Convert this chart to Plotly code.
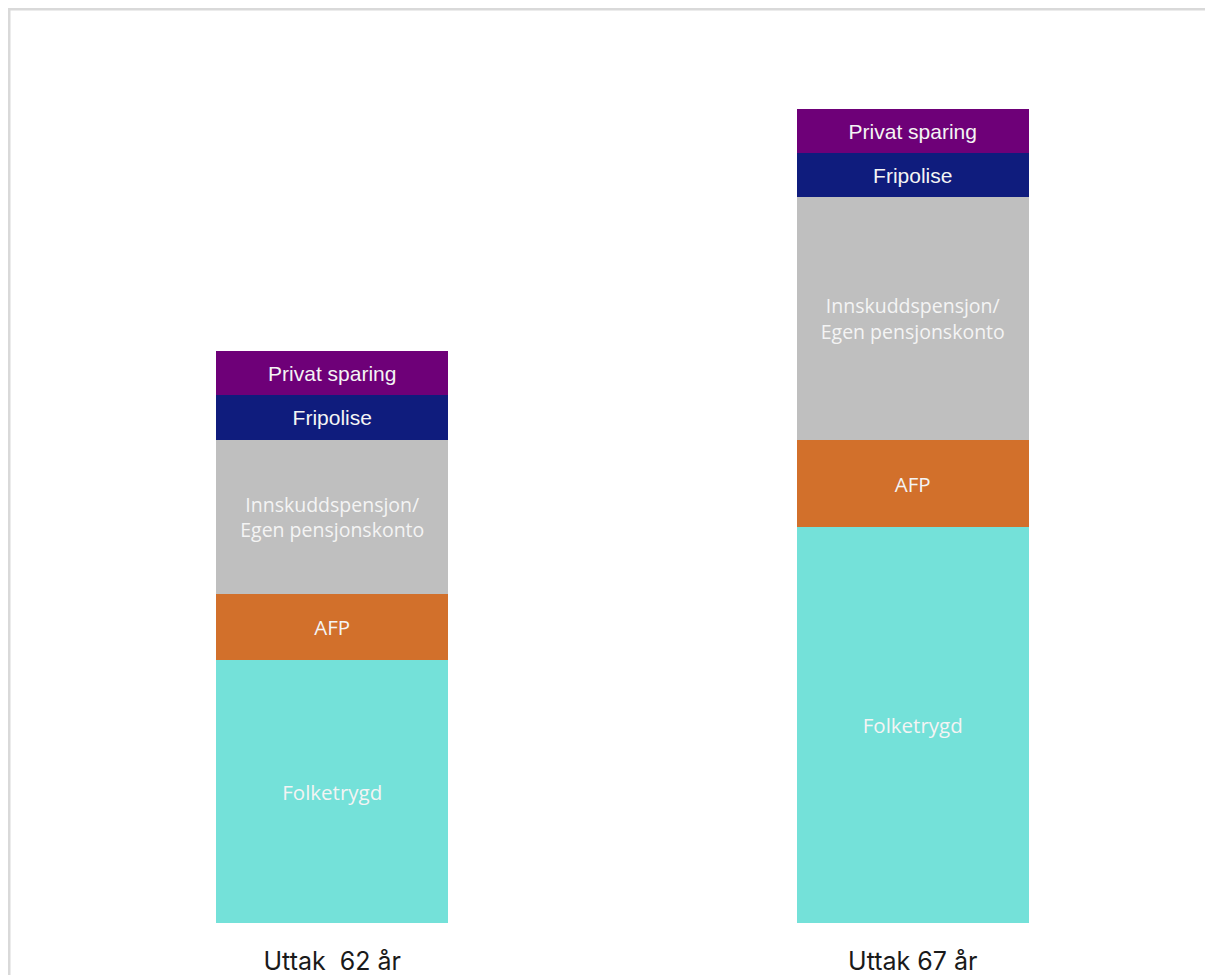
import plotly.graph_objects as go

categories = ["Uttak  62 år", "Uttak 67 år"]
series_names = ["Folketrygd", "AFP", "Innskuddspensjon/<br>Egen pensjonskonto", "Fripolise", "Privat sparing"]
folketrygd = [263, 396]
afp = [66, 87]
innskudd = [154, 243]
fripolise = [45, 44]
privat = [44, 44]

colors = ["#74e1d9", "#d2702b", "#bfbfbf", "#0f1c7d", "#6e0078"]
fonts = ["Open Sans", "Open Sans", "Open Sans", "Liberation Sans", "Liberation Sans"]
sizes = [20.5, 20.5, 19.5, 21, 21]
values = [folketrygd, afp, innskudd, fripolise, privat]

fig = go.Figure()
for name, vals, col, fnt, sz in zip(series_names, values, colors, fonts, sizes):
    fig.add_trace(go.Bar(
        x=categories, y=vals, name=name,
        marker=dict(color=col, line=dict(width=0)),
        text=[name] * len(vals), texttemplate="%{text}",
        textposition="inside", insidetextanchor="middle", textangle=0,
        textfont=dict(color="#f4f4f4", family=fnt, size=sz),
        hoverinfo="skip",
    ))

W, H = 1213, 975
L, R, T, B = 34, 18, 15, 60
pw, ph = W - L - R, H - T - B

def px_x(p):
    return (p - L) / pw

def px_y(p):
    return (H - B - p) / ph

fig.update_layout(
    width=W, height=H,
    barmode="stack", bargap=0.6,
    showlegend=False,
    plot_bgcolor="white", paper_bgcolor="white",
    margin=dict(l=L, r=R, t=T, b=B, autoexpand=False),
    xaxis=dict(showgrid=False, showline=False, zeroline=False, ticks="",
               automargin=False, ticklabelstandoff=21,
               tickfont=dict(family="Inter", size=25, color="#1a1a1a"),
               range=[-0.5, 1.5]),
    yaxis=dict(visible=False, range=[0, 900], automargin=False),
    shapes=[
        dict(type="line", xref="paper", yref="paper",
             x0=px_x(0), x1=px_x(1213), y0=px_y(1), y1=px_y(1),
             line=dict(color="#d9d9d9", width=3)),
        dict(type="line", xref="paper", yref="paper",
             x0=px_x(1), x1=px_x(1), y0=px_y(0), y1=px_y(975),
             line=dict(color="#d9d9d9", width=3)),
    ],
)

fig.write_html("out.html")
